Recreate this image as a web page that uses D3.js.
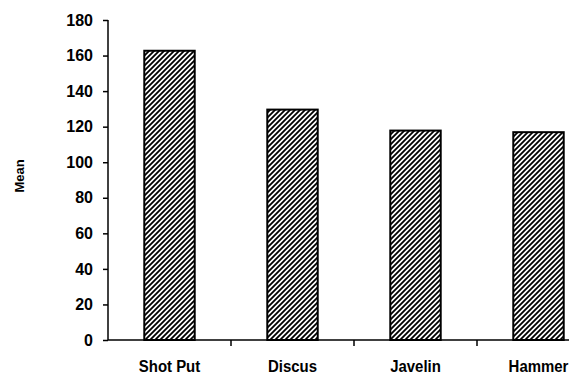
<!DOCTYPE html>
<html>
<head>
<meta charset="utf-8">
<script src="https://cdn.jsdelivr.net/npm/d3@7"></script>
<style>
  body { margin: 0; background: #fff; }
  svg { display: block; }
  text { font-family: "Liberation Sans", Arial, sans-serif; font-weight: bold; fill: #000; }
</style>
</head>
<body>
<svg id="chart" width="569" height="377"></svg>
<script>
const categories = ["Shot Put", "Discus", "Javelin", "Hammer"];
const means = [162.7, 129.6, 117.8, 116.9];
const yTicks = [0, 20, 40, 60, 80, 100, 120, 140, 160, 180];
const yLabel = "Mean";

(function () {
const svg = d3.select("#chart");
const mLeft = 108, mRight = 600, mTop = 20, mBottom = 340;

const defs = svg.append("defs");
const pat = defs.append("pattern")
  .attr("id", "hatch")
  .attr("patternUnits", "userSpaceOnUse")
  .attr("width", 5).attr("height", 5);
pat.append("rect").attr("width", 5).attr("height", 5).attr("fill", "#fff");
pat.append("path")
  .attr("d", "M-1,1 l2,-2 M0,5 l5,-5 M4,6 l2,-2")
  .attr("stroke", "#000").attr("stroke-width", 1.8);

const y = d3.scaleLinear().domain([0, 180]).range([mBottom, mTop]);
const x = d3.scaleBand().domain(categories).range([mLeft, mRight])
  .paddingInner(0.59).paddingOuter(0.295);
const xBound = d3.scaleBand().domain(categories).range([mLeft, mRight]).padding(0);

// bars
svg.append("g").selectAll("rect")
  .data(categories)
  .join("rect")
  .attr("x", d => x(d))
  .attr("width", x.bandwidth())
  .attr("y", (d, i) => y(means[i]))
  .attr("height", (d, i) => y(0) - y(means[i]))
  .attr("fill", "url(#hatch)")
  .attr("stroke", "#000")
  .attr("stroke-width", 2);

// y axis
const yAxis = d3.axisLeft(y).tickValues(yTicks).tickSize(5).tickPadding(10);
const gy = svg.append("g").attr("transform", `translate(${mLeft},0)`).call(yAxis);
gy.select(".domain").attr("stroke", "#000").attr("stroke-width", 1.5).attr("d", `M0,${mTop}V${mBottom}`);
gy.selectAll(".tick line").attr("stroke", "#000").attr("stroke-width", 1.5);
gy.selectAll(".tick text").style("font-size", "16px").style("font-family", "Liberation Sans, Arial, sans-serif").style("font-weight", "bold").attr("fill", "#000");

// x axis line
svg.append("line").attr("x1", mLeft).attr("x2", mRight)
  .attr("y1", y(0)).attr("y2", y(0))
  .attr("stroke", "#000").attr("stroke-width", 1.5);
// x boundary ticks
svg.append("g").selectAll("line")
  .data(categories.slice(1))
  .join("line")
  .attr("x1", d => xBound(d)).attr("x2", d => xBound(d))
  .attr("y1", y(0)).attr("y2", y(0) + 6)
  .attr("stroke", "#000").attr("stroke-width", 1.5);

// x labels
svg.append("g").selectAll("text")
  .data(categories)
  .join("text")
  .attr("transform", d => `translate(${x(d) + x.bandwidth() / 2},372) scale(0.88,1)`)
  .attr("text-anchor", "middle")
  .style("font-size", "17px")
  .text(d => d);

// y label
svg.append("text")
  .attr("transform", "translate(24,176) rotate(-90)")
  .attr("text-anchor", "middle")
  .style("font-size", "13px")
  .text(yLabel);
})();
</script>
</body>
</html>
